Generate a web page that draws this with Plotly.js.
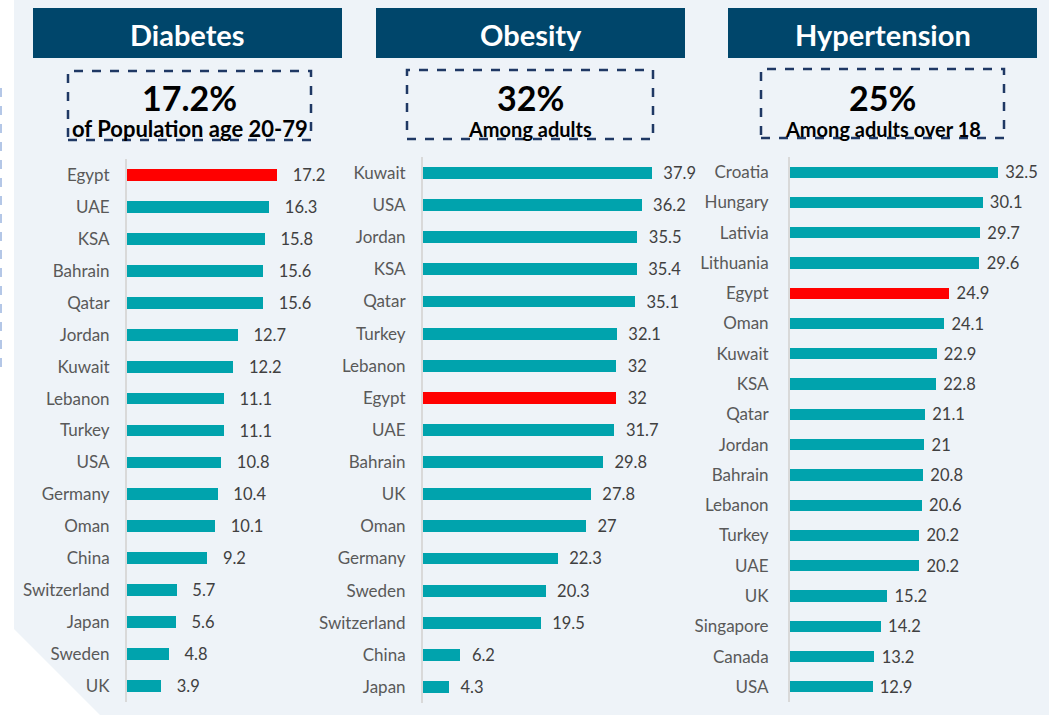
<!DOCTYPE html>
<html>
<head>
<meta charset="utf-8">
<script src="https://cdn.plot.ly/plotly-3.0.1.min.js"></script>
<style>
  html, body { margin: 0; padding: 0; background: #ffffff; }
  #chart { width: 1049px; height: 715px; }
</style>
</head>
<body>
<div id="chart"></div>
<script>
// data
var diabetesCountries = ["Egypt", "UAE", "KSA", "Bahrain", "Qatar", "Jordan", "Kuwait", "Lebanon", "Turkey",
	"USA", "Germany", "Oman", "China", "Switzerland", "Japan", "Sweden", "UK"];
var diabetesValues = [17.2, 16.3, 15.8, 15.6, 15.6, 12.7, 12.2, 11.1, 11.1, 10.8, 10.4, 10.1, 9.2, 5.7, 5.6, 4.8, 3.9];

var obesityCountries = ["Kuwait", "USA", "Jordan", "KSA", "Qatar", "Turkey", "Lebanon", "Egypt", "UAE",
	"Bahrain", "UK", "Oman", "Germany", "Sweden", "Switzerland", "China", "Japan"];
var obesityValues = [37.9, 36.2, 35.5, 35.4, 35.1, 32.1, 32, 32, 31.7, 29.8, 27.8, 27, 22.3, 20.3, 19.5, 6.2, 4.3];

var hyperCountries = ["Croatia", "Hungary", "Lativia", "Lithuania", "Egypt", "Oman", "Kuwait", "KSA", "Qatar",
	"Jordan", "Bahrain", "Lebanon", "Turkey", "UAE", "UK", "Singapore", "Canada", "USA"];
var hyperValues = [32.5, 30.1, 29.7, 29.6, 24.9, 24.1, 22.9, 22.8, 21.1, 21, 20.8, 20.6, 20.2, 20.2, 15.2, 14.2, 13.2, 12.9];

var panelTitles = ["Diabetes", "Obesity", "Hypertension"];
var headlineValues = ["17.2%", "32%", "25%"];
var headlineNotes = ["of Population age 20-79", "Among adults", "Among adults over 18"];

var W = 1049, H = 715;
var teal = "#00a3ad";
var red = "#ff0000";
var navy = "#00466b";
var font = "Lato, 'Open Sans', sans-serif";

function px(x) { return x / W; }
function py(y) { return 1 - y / H; }

function barTrace(cats, vals, xa, ya, pad) {
	return {
		type: "bar",
		orientation: "h",
		x: vals,
		y: cats,
		xaxis: xa,
		yaxis: ya,
		width: 0.37,
		marker: { color: cats.map(function (c) { return c === "Egypt" ? red : teal; }) },
		text: vals.map(function (v) { return pad + v; }),
		textposition: "outside",
		constraintext: "none",
		textfont: { family: font, size: 16.5, color: "#404040" },
		outsidetextfont: { family: font, size: 16.5, color: "#404040" },
		cliponaxis: false,
		hoverinfo: "x+y",
	};
}

var data = [
	barTrace(diabetesCountries, diabetesValues, "x", "y", "\u00a0\u00a0\u00a0"),
	barTrace(obesityCountries, obesityValues, "x2", "y2", "\u00a0\u00a0"),
	barTrace(hyperCountries, hyperValues, "x3", "y3", "\u00a0"),
];

function xAxis(x0, pxPerUnit, maxVal) {
	return {
		domain: [px(x0), px(x0 + pxPerUnit * maxVal)],
		range: [0, maxVal],
		visible: false,
		fixedrange: true,
	};
}

function yAxis(n, top, bottom, anchor, standoff) {
	return {
		domain: [py(bottom), py(top)],
		range: [n - 0.5, -0.5],
		type: "category",
		anchor: anchor,
		showgrid: false,
		zeroline: false,
		showline: true,
		linecolor: "#d9d9d9",
		linewidth: 2,
		ticks: "",
		ticklabelstandoff: standoff,
		tickfont: { family: font, size: 17, color: "#595959" },
		fixedrange: true,
	};
}

// header boxes and dashed boxes, in pixels
var headers = [[33, 342], [376, 685], [728, 1037]];
var boxes = [[68, 311, 71, 140], [407, 653, 70, 139], [761, 1004, 69, 138]];
var noteSizes = [22, 20, 20];

var shapes = [
	{
		type: "path", xref: "paper", yref: "paper", layer: "below",
		path: "M" + px(14) + "," + py(0) + " L" + px(W) + "," + py(0) + " L" + px(W) + "," + py(H) +
			" L" + px(100) + "," + py(H) + " L" + px(14) + "," + py(629) + " Z",
		fillcolor: "#eef3f8", line: { width: 0 },
	},
	{
		type: "line", xref: "paper", yref: "paper", layer: "below",
		x0: px(1), x1: px(1), y0: py(88), y1: py(375),
		line: { color: "#b4c7e7", width: 2, dash: "dash" },
	},
];
var annotations = [];

headers.forEach(function (h, i) {
	shapes.push({
		type: "rect", xref: "paper", yref: "paper",
		x0: px(h[0]), x1: px(h[1]), y0: py(58), y1: py(8),
		fillcolor: navy, line: { width: 0 },
	});
	annotations.push({
		xref: "paper", yref: "paper", x: px((h[0] + h[1]) / 2), y: py(34),
		text: "<b>" + panelTitles[i] + "</b>", showarrow: false,
		xanchor: "center", yanchor: "middle",
		font: { family: font, size: 29, color: "#ffffff" },
	});
	var b = boxes[i];
	shapes.push({
		type: "rect", xref: "paper", yref: "paper",
		x0: px(b[0]), x1: px(b[1]), y0: py(b[3]), y1: py(b[2]),
		line: { color: "#1f3864", width: 2.5, dash: "dash" },
	});
	annotations.push({
		xref: "paper", yref: "paper", x: px((b[0] + b[1]) / 2), y: py(97),
		text: "<b>" + headlineValues[i] + "</b>", showarrow: false,
		xanchor: "center", yanchor: "middle",
		font: { family: font, size: 34, color: "#000000" },
	});
	annotations.push({
		xref: "paper", yref: "paper", x: px((b[0] + b[1]) / 2), y: py(129),
		text: "<b>" + headlineNotes[i] + "</b>", showarrow: false,
		xanchor: "center", yanchor: "middle",
		font: { family: font, size: noteSizes[i], color: "#000000" },
	});
});

var layout = {
	width: W,
	height: H,
	margin: { l: 0, r: 0, t: 0, b: 0 },
	paper_bgcolor: "#ffffff",
	plot_bgcolor: "rgba(0,0,0,0)",
	showlegend: false,
	bargap: 0,
	xaxis: xAxis(127, 8.72, 20),
	yaxis: yAxis(diabetesCountries.length, 159, 702, "x", 12),
	xaxis2: xAxis(423, 6.04, 40),
	yaxis2: yAxis(obesityCountries.length, 157, 703, "x2", 12),
	xaxis3: xAxis(790, 6.4, 35),
	yaxis3: yAxis(hyperCountries.length, 157, 702, "x3", 16),
	shapes: shapes,
	annotations: annotations,
};

var config = {
	responsive: false,
	displayModeBar: false,
	staticPlot: true,
};

Plotly.newPlot("chart", data, layout, config);
</script>
</body>
</html>
